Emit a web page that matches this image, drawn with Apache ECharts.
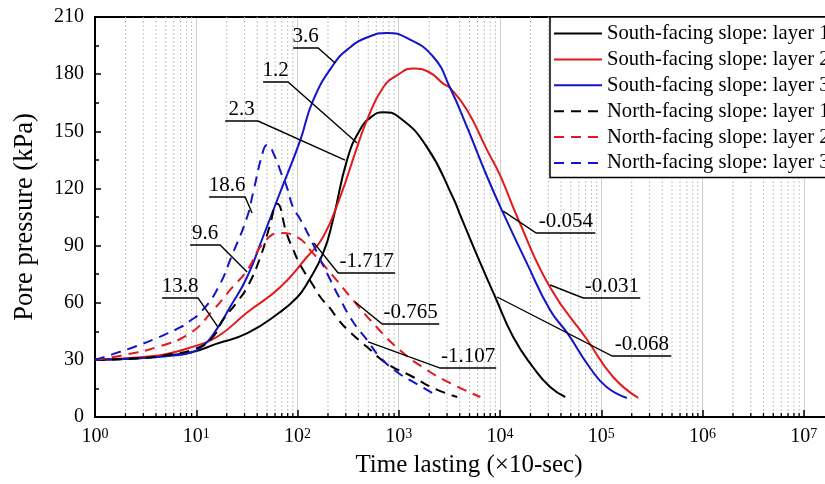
<!DOCTYPE html>
<html>
<head>
<meta charset="utf-8">
<script src="https://cdn.jsdelivr.net/npm/echarts@6/dist/echarts.min.js"></script>
<style>html,body{margin:0;padding:0;background:#fff;}#c{width:825px;height:484px;}</style>
</head>
<body>
<div id="c"></div>
<script>
const FONT = '"Liberation Serif", "Times New Roman", serif';

// Series names
const seriesNames = [
  'South-facing slope: layer 1',
  'South-facing slope: layer 2',
  'South-facing slope: layer 3',
  'North-facing slope: layer 1',
  'North-facing slope: layer 2',
  'North-facing slope: layer 3'
];

// [time (x10 sec), pore pressure (kPa)]
const southL1 = [[1,30],[3,31],[5,32.3],[9,34],[16,38.5],[32,44],[67,55],[100,63],[124,70],[179,86],[225,104],[309,135],[416,151],[550,158],[700,160],[1000,157.5],[1900,141.7],[3450,115],[4050,106],[6370,81],[8970,63],[13500,42],[21300,26],[31300,15.7],[44100,10.5]];
const southL2 = [[1,30],[3,31.5],[5,33],[9,36.7],[16,42],[32,55],[67,68],[124,84],[179,94.5],[264,115.6],[388,141.7],[487,156],[701,173],[1000,180],[1387,183],[2000,181],[2750,175],[3220,172.7],[4740,161],[7480,140],[10000,127],[14800,105],[31300,68],[72800,40.4],[131000,21],[232000,10]];
const southL3 = [[1,30],[3,31],[6,32.3],[9,34],[12,38],[15,44],[21.6,57.7],[31.8,73.5],[45.6,94.5],[67,117.6],[106,145],[142,166],[225,184.8],[330,194],[500,199.5],[770,201.6],[1200,199],[2200,189],[3220,172.7],[4740,152],[7480,126],[10760,107],[18400,80.8],[31300,56],[46300,44],[77000,26],[113000,15.7],[179000,10]];
const northL1 = [[1,30],[3,31],[5,32.5],[10,36],[14.6,42],[18.4,51],[25,60],[31.8,68],[43,84],[53,100],[63,112],[78.5,96],[90.5,88],[106,80],[143,69],[168,63],[210,57],[246,52],[309,46],[487,36.7],[768,28],[1387,21],[2188,15.2],[3780,10.5]];
const northL2 = [[1,30],[1.9,32.5],[4.1,36.7],[8.7,44],[14.6,56],[21.6,66.7],[31.8,77],[45.6,91],[67,96.6],[99,94.5],[142,86],[225,74],[353,61.4],[610,47],[1030,35],[1740,26],[3220,17.8],[6400,10.5]];
const northL3 = [[1,30],[1.5,33],[2.5,37],[4.1,41.5],[6.9,47],[8.7,50.5],[10.9,54.6],[16,66.7],[23,86],[31.8,105],[36.5,118],[46,140],[50,142.8],[60,136.5],[69,128],[78.5,120.7],[90.5,110],[106,104],[133,94],[167,83],[202,74],[263,62],[353,50],[487,40.4],[650,31.5],[960,23.6],[1390,18.4],[2150,12.6]];

const seriesData = [southL1, southL2, southL3, northL1, northL2, northL3];
const seriesColors = ['#000000', '#e3191c', '#1414c8', '#000000', '#e3191c', '#1414c8'];
const seriesDashed = [false, false, false, true, true, true];

// Annotations: label, point on curve [t, P], underline [tLeft, tRight, P]
const annoLabels = ['3.6','1.2','2.3','18.6','9.6','13.8','-1.717','-0.765','-1.107','-0.054','-0.031','-0.068'];
const annoPoint = [[235,185.8],[388,143.8],[295,134.9],[35.6,107.1],[31.8,76.1],[16.4,47.2],[146,91.3],[371,60.4],[499,39.4],[10760,108.1],[31300,69.3],[9380,63]];
const annoLine = [[90.5,160,193.7],[45.7,80.7,175.9],[19.3,40.8,155.4],[13.4,30.4,115.5],[8.7,17.2,90.3],[4.6,10.4,62.5],[252,921,75.6],[686,2507,48.8],[2566,9170,25.7],[22800,87300,96.6],[66400,243000,62.5],[128400,492000,32.0]];

// Axis settings
const xMin = 1, xMax = 1e8;
const yMin = 0, yMax = 210, yInterval = 30;
const decades = [1, 10, 100, 1000, 10000, 100000, 1000000, 10000000];
const minorMult = [2, 3, 4, 5, 6, 7, 8, 9];
const minorTicks = [];
decades.forEach(d => minorMult.forEach(m => minorTicks.push([m * d, 0])));

const chart = echarts.init(document.getElementById('c'), null, {renderer: 'canvas'});

const lineSeries = seriesNames.map((name, i) => ({
  name: name,
  type: 'line',
  data: seriesData[i],
  symbol: 'none',
  showSymbol: false,
  smooth: 0.5,
  z: 3,
  lineStyle: {
    color: seriesColors[i],
    width: 2,
    type: seriesDashed[i] ? [10, 7] : 'solid'
  },
  itemStyle: {color: seriesColors[i]}
}));

const option = {
  animation: false,
  backgroundColor: '#fff',
  textStyle: {fontFamily: FONT},
  grid: {left: 95, top: 17, width: 810, height: 400, containLabel: false, outerBoundsMode: 'none'},
  title: {
    text: 'Time lasting (×10-sec)',
    left: 464, top: 448,
    textAlign: 'center',
    textStyle: {fontFamily: FONT, fontSize: 25, fontWeight: 'normal', color: '#000'}
  },
  legend: {
    orient: 'vertical',
    left: 550, top: 17,
    data: seriesNames,
    itemWidth: 48, itemHeight: 14, itemGap: 4.9,
    padding: [6, 40, 4, 3],
    backgroundColor: '#fff',
    borderColor: '#000', borderWidth: 1.5,
    itemStyle: {color: 'transparent', borderColor: 'transparent', borderWidth: 0, opacity: 0},
    textStyle: {fontFamily: FONT, fontSize: 20.6, color: '#000', lineHeight: 20},
    z: 10
  },
  xAxis: [{
    type: 'log', logBase: 10, min: xMin, max: xMax, splitNumber: 8,
    axisLine: {show: true, lineStyle: {color: '#000', width: 2}},
    axisTick: {show: true, inside: true, length: 7, lineStyle: {color: '#000', width: 1.5}},
    splitLine: {show: true, lineStyle: {color: '#cfcfcf', width: 1}},
    axisLabel: {
      margin: 10, color: '#000',
      formatter: function (v) {
        const e = Math.round(Math.log10(v));
        return '{b|10}{s|' + e + '}';
      },
      rich: {
        b: {fontFamily: FONT, fontSize: 20, color: '#000'},
        s: {fontFamily: FONT, fontSize: 14, color: '#000', verticalAlign: 'top'}
      }
    }
  }, {
    type: 'log', logBase: 10, min: xMin, max: xMax, position: 'top',
    axisLine: {show: true, lineStyle: {color: '#000', width: 2}},
    axisTick: {show: false}, axisLabel: {show: false}, splitLine: {show: false}
  }],
  yAxis: {
    type: 'value', min: yMin, max: yMax, interval: yInterval,
    name: 'Pore pressure (kPa)', nameLocation: 'middle', nameGap: 56,
    nameTextStyle: {fontFamily: FONT, fontSize: 26.5, color: '#000'},
    axisLine: {show: true, lineStyle: {color: '#000', width: 2}},
    axisTick: {show: true, inside: true, length: 6, lineStyle: {color: '#000', width: 1.5}},
    minorTick: {show: true, splitNumber: 2, length: 4, lineStyle: {color: '#000', width: 1.5}},
    splitLine: {show: false},
    axisLabel: {fontFamily: FONT, fontSize: 20, color: '#000', margin: 11}
  },
  series: [{
    type: 'custom',
    name: 'minorGrid',
    silent: true,
    z: 1,
    data: minorTicks,
    encode: {x: 0, y: 1},
    renderItem: function (params, api) {
      const x = api.value(0);
      const b = api.coord([x, yMin]);
      const t = api.coord([x, yMax]);
      return {
        type: 'group',
        children: [
          {type: 'line', shape: {x1: b[0], y1: t[1], x2: b[0], y2: b[1]},
           style: {stroke: '#c4c4c4', lineWidth: 1, lineDash: [2, 2]}},
          {type: 'line', shape: {x1: b[0], y1: b[1], x2: b[0], y2: b[1] - 4},
           style: {stroke: '#000', lineWidth: 1.3}}
        ]
      };
    }
  }].concat(lineSeries).concat([{
    type: 'custom',
    name: 'annotations',
    silent: true,
    z: 5,
    data: annoPoint.map((p, i) => p.concat(annoLine[i])),
    encode: {x: [0, 2, 3], y: [1, 4]},
    renderItem: function (params, api) {
      const i = params.dataIndex;
      const p = api.coord([api.value(0), api.value(1)]);
      const l = api.coord([api.value(2), api.value(4)]);
      const r = api.coord([api.value(3), api.value(4)]);
      const attachRight = p[0] > r[0];
      const a = attachRight ? r : l;
      const o = attachRight ? l : r;
      return {
        type: 'group',
        children: [
          {type: 'polyline', shape: {points: [p, a, o]},
           style: {stroke: '#000', lineWidth: 1.4, fill: null}},
          {type: 'text', style: {
            text: annoLabels[i], x: (l[0] + r[0]) / 2, y: l[1] - 1,
            align: 'center', verticalAlign: 'bottom',
            fontFamily: FONT, fontSize: 21, fill: '#000'
          }}
        ]
      };
    }
  }])
};

chart.setOption(option);
</script>
</body>
</html>
